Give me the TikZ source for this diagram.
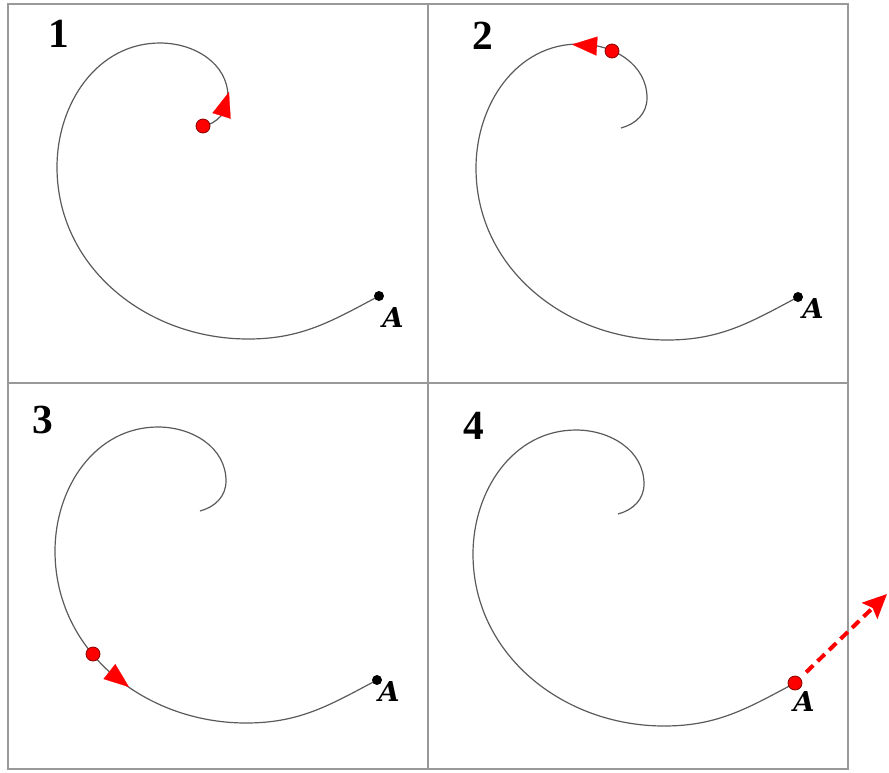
\documentclass[tikz,border=0pt]{standalone}
\usepackage{fontspec}
\setmainfont{Liberation Serif}
\newfontfamily\labelfont{DejaVu Serif}
\usepackage{xcolor}
\usetikzlibrary{arrows.meta}
\definecolor{frame}{HTML}{999999}
\definecolor{tube}{HTML}{5A5A5A}
\definecolor{ballrim}{HTML}{8A0000}
\tikzset{
  % The panel grid
  grid/.style={draw=frame, line width=1pt},
  % The spiral tube
  spiral/.style={draw=tube, line width=0.6pt},
  % End point A of the tube
  endpt/.style={circle, fill=black, inner sep=0pt, minimum size=5pt},
  % The red ball
  ball/.style={circle, draw=ballrim, fill=red, line width=0.4pt,
    inner sep=0pt, minimum size=7pt},
  % Direction of the ball along the tube
  dirtip/.style={draw=red, fill=red, line width=0.1pt,
    -{Triangle[length=12.5pt, width=9.5pt]}},
  % Path of the ball after it leaves the tube
  exitarrow/.style={draw=red, line width=2pt, dash pattern=on 5pt off 3pt,
    shorten <=4pt, -{Stealth[length=12pt, width=11pt, inset=2pt]}},
  panelno/.style={font=\fontsize{20.7}{24}\selectfont\bfseries, inner sep=0pt},
  ptlabel/.style={font=\labelfont\fontsize{13.7}{16}\selectfont\bfseries\itshape, inner sep=0pt},
}
\newcommand{\spiraltube}[3]{%
  \begin{scope}[shift={(#1,#2)}]
    \draw[spiral] (202,127) to[out=15, in=270] (228,97)
      to[out=90, in=0] (160,43) to[out=180, in=90] (57,167)
      to[out=270, in=180] (248,339) to[out=0, in=208] (379,296);
    \coordinate (A#3) at (379,296);
  \end{scope}}

\begin{document}
\begin{tikzpicture}[x=0.5pt, y=-0.5pt]

  \useasboundingbox (0,0) rectangle (889,772);

  \draw[grid] (8,4) rectangle (848,769);
  \draw[grid] (428,4) -- (428,769);
  \draw[grid] (8,383) -- (848,383);

  \spiraltube{0}{0}{1}
  \spiraltube{419}{1}{2}
  \spiraltube{-2}{384}{3}
  \spiraltube{416}{387}{4}

  \node[panelno] (n1) at (59,34) {1};
  \node[panelno] (n2) at (483,36) {2};
  \node[panelno] (n3) at (43,420) {3};
  \node[panelno] (n4) at (474,426) {4};

  % panel 1: ball at the inner end
  \node[endpt] (end1) at (A1) {};
  \node[ptlabel] (lab1) at (393,318) {A};
  \begin{scope}[shift={(0,0)}]
    \coordinate (base1) at (221.5,116);
    \coordinate (tip1) at (229,92);
    \node[ball] (ball1) at (203,126) {};
  \end{scope}
  \draw[dirtip] (base1) -- (tip1);

  % panel 2: ball near the top
  \node[endpt] (end2) at (A2) {};
  \node[ptlabel] (lab2) at (813,309) {A};
  \begin{scope}[shift={(419,1)}]
    \coordinate (base2) at (177,45);
    \coordinate (tip2) at (153,43.5);
    \node[ball] (ball2) at (193,50) {};
  \end{scope}
  \draw[dirtip] (base2) -- (tip2);

  % panel 3: ball on the lower left
  \node[endpt] (end3) at (A3) {};
  \node[ptlabel] (lab3) at (389,692) {A};
  \begin{scope}[shift={(-2,384)}]
    \coordinate (base3) at (112,288);
    \coordinate (tip3) at (131,303);
    \node[ball] (ball3) at (95,270) {};
  \end{scope}
  \draw[dirtip] (base3) -- (tip3);

  % panel 4: ball leaves at A
  \node[ball] (ball4) at (A4) {};
  \node[ptlabel] (lab4) at (804,702) {A};
  \coordinate (out4) at (887,594);
  \draw[exitarrow] (ball4) -- (out4);

\end{tikzpicture}
\end{document}
